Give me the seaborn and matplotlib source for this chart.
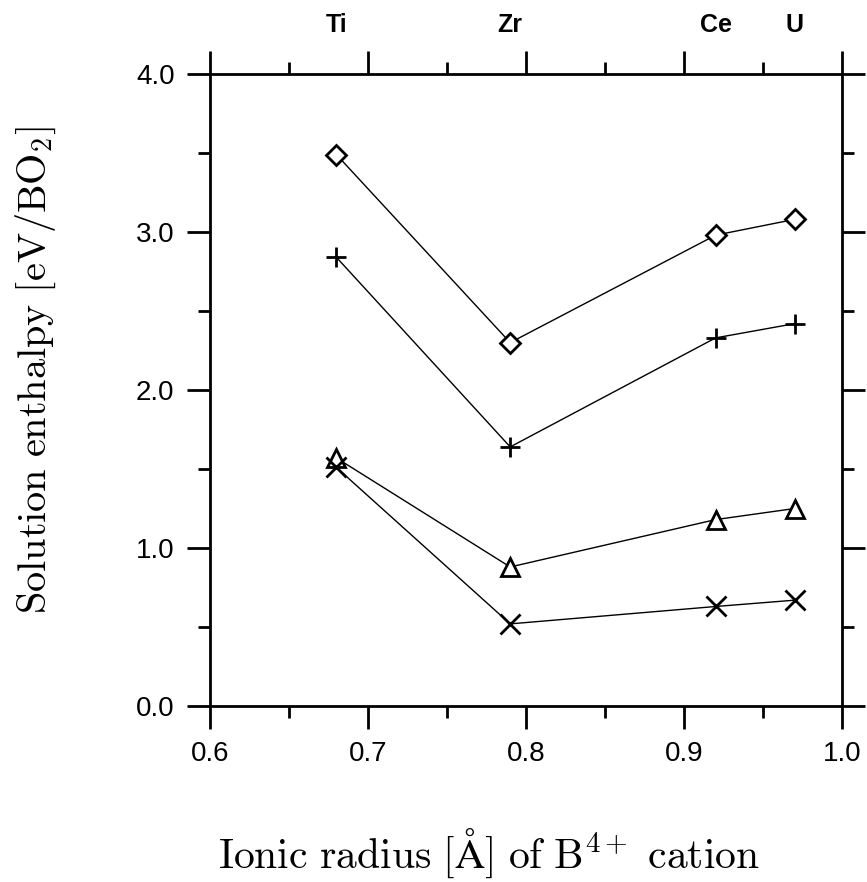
import matplotlib
matplotlib.use("Agg")
import matplotlib.pyplot as plt
import matplotlib.transforms as mtransforms
from matplotlib.ticker import MultipleLocator, FormatStrFormatter
import seaborn as sns
import pandas as pd

# ---- data ----
cations = ["Ti", "Zr", "Ce", "U"]
radius = [0.68, 0.79, 0.92, 0.97]
series_diamond = [3.49, 2.30, 2.98, 3.08]
series_plus = [2.84, 1.64, 2.33, 2.42]
series_triangle = [1.57, 0.88, 1.18, 1.25]
series_cross = [1.51, 0.52, 0.63, 0.67]

sns.set_style("ticks")
plt.rcParams["font.family"] = ["Liberation Sans", "DejaVu Sans"]
plt.rcParams["mathtext.fontset"] = "cm"
plt.rcParams["text.color"] = "black"
plt.rcParams["axes.labelcolor"] = "black"
plt.rcParams["xtick.color"] = "black"
plt.rcParams["ytick.color"] = "black"

fig = plt.figure(figsize=(8.67, 8.82), dpi=100)
ax = fig.add_axes([0.2422, 0.1995, 0.729, 0.7166])

styles = [
    (series_diamond, "D", 10, "white"),
    (series_plus, "+", 15, "black"),
    (series_triangle, "^", 13, "white"),
    (series_cross, "x", 14, "black"),
]
for vals, mk, ms, fc in styles:
    df = pd.DataFrame({"r": radius, "H": vals})
    sns.lineplot(data=df, x="r", y="H", ax=ax, color="black", lw=1.0,
                 marker=mk, ms=ms, mfc=fc, mec="black", mew=2.0,
                 legend=False, zorder=3)

ax.set_xlim(0.6, 1.0)
ax.set_ylim(0.0, 4.0)
ax.xaxis.set_major_locator(MultipleLocator(0.1))
ax.xaxis.set_minor_locator(MultipleLocator(0.05))
ax.yaxis.set_major_locator(MultipleLocator(1.0))
ax.yaxis.set_minor_locator(MultipleLocator(0.5))
ax.xaxis.set_major_formatter(FormatStrFormatter("%.1f"))
ax.yaxis.set_major_formatter(FormatStrFormatter("%.1f"))

for sp in ax.spines.values():
    sp.set_visible(True)
    sp.set_linewidth(2.0)
    sp.set_color("black")

ax.tick_params(which="both", direction="out", top=True, right=True,
               labeltop=False, labelright=False, width=2.0, color="black",
               labelcolor="black")
ax.tick_params(which="major", length=16.5, labelsize=20, pad=9)
ax.tick_params(which="minor", length=8.5)

ax.set_xlabel(r"$\mathrm{Ionic\ radius\ [\AA]\ of\ B}^{4+}\mathrm{\ cation}$",
              fontsize=30)
ax.xaxis.set_label_coords(0.441, -0.19)
ax.set_ylabel(r"$\mathrm{Solution\ enthalpy\ [eV/BO}_2\mathrm{]}$",
              fontsize=29)
ax.yaxis.set_label_coords(-0.2405, 0.532)

trans = mtransforms.blended_transform_factory(ax.transData, ax.transAxes)
for name, r in zip(cations, radius):
    ax.text(r, 1.078, name, transform=trans, ha="center", va="center",
            fontsize=18, fontweight="bold")

fig.savefig("out.png", dpi=100)
